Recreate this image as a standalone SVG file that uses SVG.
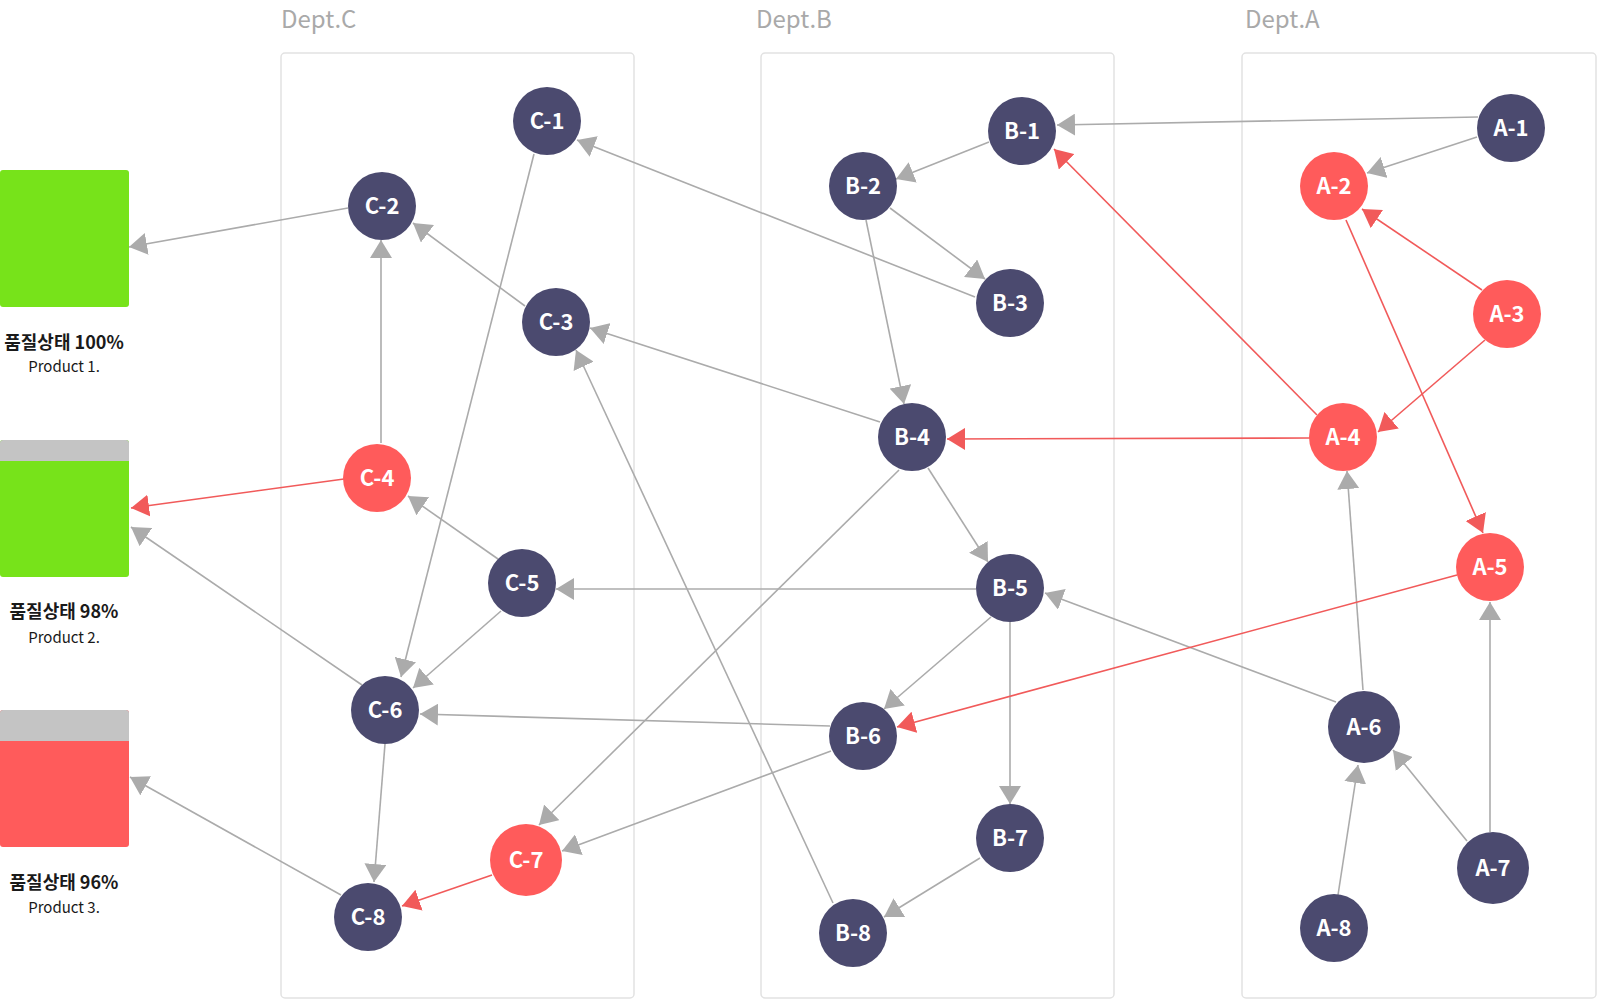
<svg xmlns="http://www.w3.org/2000/svg" width="1600" height="1000" viewBox="0 0 1600 1000">
  <style>
    .panel { fill: none; stroke: #e2e2e2; stroke-width: 1.5; }
    .dept { font-family: "Noto Sans CJK KR", "Noto Sans", sans-serif; font-size: 24px; fill: #a9a9a9; }
    .edge { fill: none; stroke: #ababab; stroke-width: 1.6; }
    .edge.red { stroke: #f15a5a; }
    .n-dark { fill: #4b4a6f; }
    .n-red { fill: #ff5b5b; }
    .nlabel { font-family: "Noto Sans CJK KR", "Noto Sans", sans-serif; font-size: 22px; font-weight: 700; fill: #ffffff; text-anchor: middle; }
    .ptitle { font-family: "Noto Sans CJK KR", sans-serif; font-size: 18px; font-weight: 700; fill: #1a1a1a; text-anchor: middle; }
    .psub { font-family: "Noto Sans CJK KR", "Noto Sans", sans-serif; font-size: 15px; fill: #1a1a1a; text-anchor: middle; }
  </style>
  <defs>
    <marker id="ag" markerUnits="userSpaceOnUse" markerWidth="18" markerHeight="22" refX="18" refY="11" orient="auto">
      <path d="M0,0 L18,11 L0,22 z" fill="#ababab"/>
    </marker>
    <marker id="ar" markerUnits="userSpaceOnUse" markerWidth="18" markerHeight="22" refX="18" refY="11" orient="auto">
      <path d="M0,0 L18,11 L0,22 z" fill="#f15a5a"/>
    </marker>
  </defs>
  <rect width="1600" height="1000" fill="#ffffff"/>

  <g id="lanes">
    <rect class="panel" x="281" y="53" width="353" height="945" rx="4"/>
    <rect class="panel" x="761" y="53" width="353" height="945" rx="4"/>
    <rect class="panel" x="1242" y="53" width="354" height="945" rx="4"/>
    <text class="dept" x="281" y="28">Dept.C</text>
    <text class="dept" x="756" y="28">Dept.B</text>
    <text class="dept" x="1245" y="28">Dept.A</text>
  </g>

  <g id="connectors">
    <path class="edge" marker-end="url(#ag)" d="M1478,117 L1057,125"/>
    <path class="edge" marker-end="url(#ag)" d="M1477,137 L1367,173"/>
    <path class="edge" marker-end="url(#ag)" d="M1363,690 L1347,471"/>
    <path class="edge" marker-end="url(#ag)" d="M1490,832 L1490,602"/>
    <path class="edge" marker-end="url(#ag)" d="M1467,841 L1393,750"/>
    <path class="edge" marker-end="url(#ag)" d="M1338,895 L1358,765"/>
    <path class="edge" marker-end="url(#ag)" d="M1336,702 L1045,593"/>
    <path class="edge" marker-end="url(#ag)" d="M989,142 L896,179"/>
    <path class="edge" marker-end="url(#ag)" d="M890,208 L985,279"/>
    <path class="edge" marker-end="url(#ag)" d="M866,220 L904,404"/>
    <path class="edge" marker-end="url(#ag)" d="M975,297 L577,140"/>
    <path class="edge" marker-end="url(#ag)" d="M880,422 L590,328"/>
    <path class="edge" marker-end="url(#ag)" d="M928,468 L988,562"/>
    <path class="edge" marker-end="url(#ag)" d="M899,470 L539,825"/>
    <path class="edge" marker-end="url(#ag)" d="M976,589 L556,589"/>
    <path class="edge" marker-end="url(#ag)" d="M991,617 L884,709"/>
    <path class="edge" marker-end="url(#ag)" d="M1010,622 L1010,804"/>
    <path class="edge" marker-end="url(#ag)" d="M830,726 L420,714"/>
    <path class="edge" marker-end="url(#ag)" d="M831,751 L562,851"/>
    <path class="edge" marker-end="url(#ag)" d="M980,858 L884,917"/>
    <path class="edge" marker-end="url(#ag)" d="M833,903 L576,350"/>
    <path class="edge" marker-end="url(#ag)" d="M534,154 L401,677"/>
    <path class="edge" marker-end="url(#ag)" d="M348,208 L129,247"/>
    <path class="edge" marker-end="url(#ag)" d="M525,306 L413,223"/>
    <path class="edge" marker-end="url(#ag)" d="M381,443 L381,240"/>
    <path class="edge" marker-end="url(#ag)" d="M498,559 L408,496"/>
    <path class="edge" marker-end="url(#ag)" d="M501,611 L413,688"/>
    <path class="edge" marker-end="url(#ag)" d="M362,685 L131,527"/>
    <path class="edge" marker-end="url(#ag)" d="M385,744 L374,882"/>
    <path class="edge" marker-end="url(#ag)" d="M341,895 L130,777"/>
    <path class="edge red" marker-end="url(#ar)" d="M1482,290 L1362,209"/>
    <path class="edge red" marker-end="url(#ar)" d="M1485,340 L1378,432"/>
    <path class="edge red" marker-end="url(#ar)" d="M1346,220 L1483,533"/>
    <path class="edge red" marker-end="url(#ar)" d="M1317,415 L1054,149"/>
    <path class="edge red" marker-end="url(#ar)" d="M1310,438 L947,439"/>
    <path class="edge red" marker-end="url(#ar)" d="M1457,575 L897,727"/>
    <path class="edge red" marker-end="url(#ar)" d="M344,479 L131,508"/>
    <path class="edge red" marker-end="url(#ar)" d="M492,875 L402,906"/>
  </g>

  <g id="product-1">
    <rect x="0" y="170" width="129" height="137" rx="3" fill="#77e31a"/>
    <text class="ptitle" x="64" y="349">품질상태 100%</text>
    <text class="psub" x="64" y="372">Product 1.</text>
  </g>
  <g id="product-2">
    <rect x="0" y="440" width="129" height="137" rx="3" fill="#77e31a"/>
    <rect x="0" y="440" width="129" height="21" rx="3" fill="#c4c4c4"/>
    <rect x="0" y="450" width="129" height="11" fill="#c4c4c4"/>
    <text class="ptitle" x="64" y="618">품질상태 98%</text>
    <text class="psub" x="64" y="643">Product 2.</text>
  </g>
  <g id="product-3">
    <rect x="0" y="710" width="129" height="137" rx="3" fill="#ff5b5b"/>
    <rect x="0" y="710" width="129" height="31" rx="3" fill="#c4c4c4"/>
    <rect x="0" y="720" width="129" height="21" fill="#c4c4c4"/>
    <text class="ptitle" x="64" y="889">품질상태 96%</text>
    <text class="psub" x="64" y="913">Product 3.</text>
  </g>

  <g id="node-A-1"><circle class="n-dark" cx="1511" cy="128" r="34"/><text class="nlabel" x="1511" y="136">A-1</text></g>
  <g id="node-A-2"><circle class="n-red" cx="1334" cy="186" r="34"/><text class="nlabel" x="1334" y="194">A-2</text></g>
  <g id="node-A-3"><circle class="n-red" cx="1507" cy="314" r="34"/><text class="nlabel" x="1507" y="322">A-3</text></g>
  <g id="node-A-4"><circle class="n-red" cx="1343" cy="437" r="34"/><text class="nlabel" x="1343" y="445">A-4</text></g>
  <g id="node-A-5"><circle class="n-red" cx="1490" cy="567" r="34"/><text class="nlabel" x="1490" y="575">A-5</text></g>
  <g id="node-A-6"><circle class="n-dark" cx="1364" cy="727" r="36"/><text class="nlabel" x="1364" y="735">A-6</text></g>
  <g id="node-A-7"><circle class="n-dark" cx="1493" cy="868" r="36"/><text class="nlabel" x="1493" y="876">A-7</text></g>
  <g id="node-A-8"><circle class="n-dark" cx="1334" cy="928" r="34"/><text class="nlabel" x="1334" y="936">A-8</text></g>

  <g id="node-B-1"><circle class="n-dark" cx="1022" cy="131" r="34"/><text class="nlabel" x="1022" y="139">B-1</text></g>
  <g id="node-B-2"><circle class="n-dark" cx="863" cy="186" r="34"/><text class="nlabel" x="863" y="194">B-2</text></g>
  <g id="node-B-3"><circle class="n-dark" cx="1010" cy="303" r="34"/><text class="nlabel" x="1010" y="311">B-3</text></g>
  <g id="node-B-4"><circle class="n-dark" cx="912" cy="437" r="34"/><text class="nlabel" x="912" y="445">B-4</text></g>
  <g id="node-B-5"><circle class="n-dark" cx="1010" cy="588" r="34"/><text class="nlabel" x="1010" y="596">B-5</text></g>
  <g id="node-B-6"><circle class="n-dark" cx="863" cy="736" r="34"/><text class="nlabel" x="863" y="744">B-6</text></g>
  <g id="node-B-7"><circle class="n-dark" cx="1010" cy="838" r="34"/><text class="nlabel" x="1010" y="846">B-7</text></g>
  <g id="node-B-8"><circle class="n-dark" cx="853" cy="933" r="34"/><text class="nlabel" x="853" y="941">B-8</text></g>

  <g id="node-C-1"><circle class="n-dark" cx="547" cy="121" r="34"/><text class="nlabel" x="547" y="129">C-1</text></g>
  <g id="node-C-2"><circle class="n-dark" cx="382" cy="206" r="34"/><text class="nlabel" x="382" y="214">C-2</text></g>
  <g id="node-C-3"><circle class="n-dark" cx="556" cy="322" r="34"/><text class="nlabel" x="556" y="330">C-3</text></g>
  <g id="node-C-4"><circle class="n-red" cx="377" cy="478" r="34"/><text class="nlabel" x="377" y="486">C-4</text></g>
  <g id="node-C-5"><circle class="n-dark" cx="522" cy="583" r="34"/><text class="nlabel" x="522" y="591">C-5</text></g>
  <g id="node-C-6"><circle class="n-dark" cx="385" cy="710" r="34"/><text class="nlabel" x="385" y="718">C-6</text></g>
  <g id="node-C-7"><circle class="n-red" cx="526" cy="860" r="36"/><text class="nlabel" x="526" y="868">C-7</text></g>
  <g id="node-C-8"><circle class="n-dark" cx="368" cy="917" r="34"/><text class="nlabel" x="368" y="925">C-8</text></g>
</svg>
